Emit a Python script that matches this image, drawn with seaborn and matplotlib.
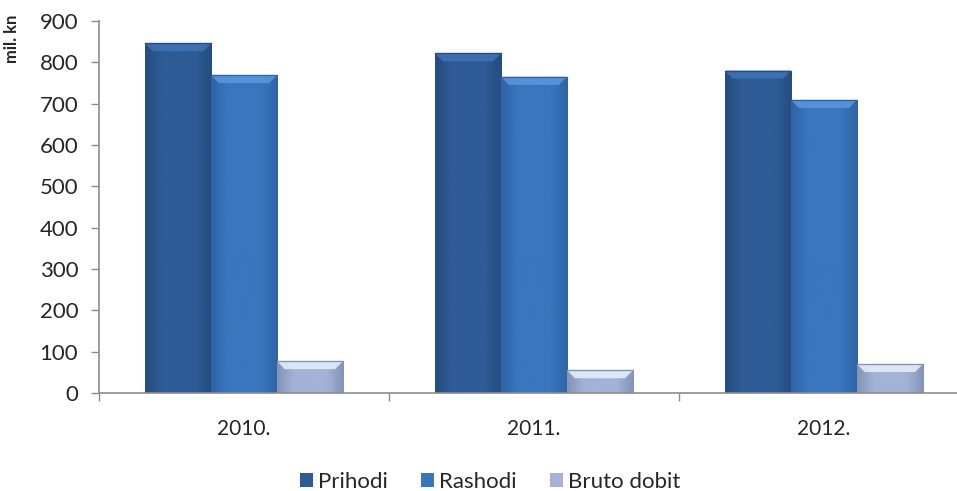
import numpy as np
import pandas as pd
import matplotlib
matplotlib.use("Agg")
import matplotlib.pyplot as plt
import seaborn as sns
from matplotlib.colors import LinearSegmentedColormap

years = ["2010.", "2011.", "2012."]
series = ["Prihodi", "Rashodi", "Bruto dobit"]
prihodi = [846, 822, 780]
rashodi = [769, 765, 709]
bruto_dobit = [77, 55, 70]

colors = ["#2E5C96", "#3A76BF", "#A2B3D5"]
edge_dark = ["#254D80", "#2F64A6", "#8494B8"]
highlight = ["#3F72B5", "#5A95DC", "#E2ECFA"]

sns.set_theme(style="white")
plt.rcParams["font.family"] = ["Lato", "DejaVu Sans"]

df = pd.DataFrame({
    "year": years * 3,
    "series": [s for s in series for _ in years],
    "value": prihodi + rashodi + bruto_dobit,
})

fig = plt.figure(figsize=(9.57, 4.91), dpi=100)
ax = fig.add_axes([99 / 957, 98 / 491, 858 / 957, 372 / 491])

sns.barplot(data=df, x="year", y="value", hue="series", hue_order=series,
            palette=colors, width=0.683, saturation=1, ax=ax,
            edgecolor="none", legend=True)

# soft shading on each bar, clipped to the bar shape
for i, cont in enumerate(ax.containers):
    cmap = LinearSegmentedColormap.from_list(
        "g%d" % i, [edge_dark[i], colors[i], colors[i], colors[i], edge_dark[i]])
    grad = np.linspace(0, 1, 64).reshape(1, -1)
    for p in cont.patches:
        x0, y0 = p.get_x(), p.get_y()
        w, h = p.get_width(), p.get_height()
        im = ax.imshow(grad, cmap=cmap, aspect="auto", zorder=p.get_zorder() + 0.1,
                       extent=[x0, x0 + w, y0, y0 + h], interpolation="bicubic")
        im.set_clip_path(p)
        # bevel on top
        top_h = 8 * 900 / 372
        ax.fill([x0, x0 + w, x0 + w * 0.88, x0 + w * 0.12],
                [y0 + h, y0 + h, y0 + h - top_h, y0 + h - top_h],
                color=highlight[i], alpha=0.9, zorder=p.get_zorder() + 0.2, lw=0)
        ax.plot([x0, x0 + w], [y0 + h, y0 + h], color=edge_dark[i], lw=1,
                zorder=p.get_zorder() + 0.3)

ax.set_xlim(-0.5, 2.459)
ax.set_ylim(0, 900)
ax.set_yticks(range(0, 901, 100))
ax.set_xlabel("")
ax.set_ylabel("")

for s in ["top", "right"]:
    ax.spines[s].set_visible(False)
for s in ["left", "bottom"]:
    ax.spines[s].set_color("#8C8C8C")
    ax.spines[s].set_linewidth(1.2)

ax.set_xticks([-0.5, 0.5, 1.5], minor=True)
ax.tick_params(axis="x", which="minor", bottom=True, length=6, width=1, color="#8C8C8C")
ax.tick_params(axis="x", which="major", bottom=False, length=0, pad=19, labelsize=15)
ax.tick_params(axis="y", left=True, length=6, width=1, color="#8C8C8C", pad=9,
               labelsize=16)

fig.text(12 / 957, 1 - 39 / 491, "mil. kn", rotation=90, fontsize=12,
         fontweight="bold", ha="center", va="center")

leg = ax.legend(loc="center", bbox_to_anchor=(490 / 957, 9 / 491),
                bbox_transform=fig.transFigure, ncol=3, frameon=False,
                fontsize=16, handlelength=0.6, handleheight=0.6,
                handletextpad=0.2, columnspacing=1.5)

fig.savefig("out.png", dpi=100)
